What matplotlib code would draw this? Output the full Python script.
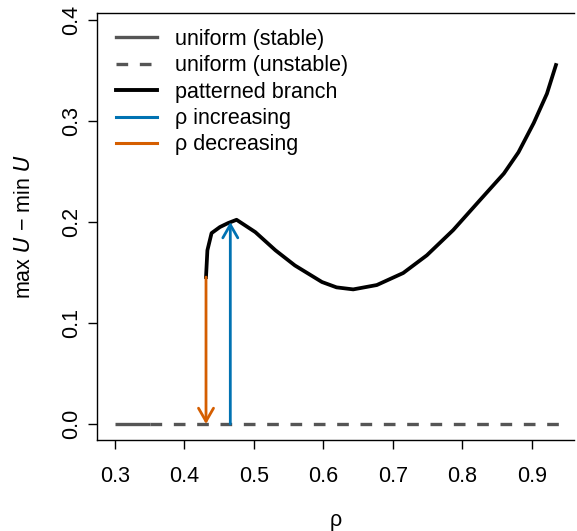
import numpy as np
import matplotlib
matplotlib.use("Agg")
import matplotlib.pyplot as plt
from matplotlib.lines import Line2D

plt.rcParams['font.family'] = ['Liberation Sans', 'DejaVu Sans']

# uniform state (U const, amplitude 0)
rho_stable = [0.30, 0.35]
rho_unstable = [0.35, 0.95]

# patterned branch
rho_branch = [0.431, 0.433, 0.439, 0.451, 0.463, 0.475, 0.502, 0.531, 0.559,
              0.598, 0.619, 0.643, 0.677, 0.715, 0.749, 0.787, 0.826, 0.860,
              0.881, 0.903, 0.922, 0.935]
amp_branch = [0.1455, 0.172, 0.189, 0.195, 0.199, 0.2022, 0.190, 0.172, 0.157,
              0.1406, 0.1353, 0.1333, 0.1376, 0.1495, 0.167, 0.192, 0.222,
              0.248, 0.269, 0.298, 0.327, 0.3554]

# jumps
rho_up, amp_up = 0.466, 0.200
rho_down, amp_down = 0.431, 0.1455

grey = '#555555'
blue = '#0072B2'
orange = '#D55E00'
fs = 15.5

fig = plt.figure(figsize=(5.77, 5.31), dpi=100)
ax = fig.add_axes([97/577, 91/531, 477/577, 427/531])

ax.plot(rho_stable, [0, 0], color=grey, lw=2.4, solid_capstyle='butt')
ax.plot(rho_unstable, [0, 0], color=grey, lw=2.4, dashes=(3.5, 3.5))
ax.plot(rho_branch, amp_branch, color='black', lw=2.7, solid_joinstyle='round')

ax.annotate('', xy=(rho_up, amp_up), xytext=(rho_up, 0),
            arrowprops=dict(arrowstyle='->,head_length=0.47,head_width=0.27',
                            mutation_scale=20, color=blue, lw=2.0,
                            shrinkA=0, shrinkB=0))
ax.annotate('', xy=(rho_down, 0), xytext=(rho_down, amp_down),
            arrowprops=dict(arrowstyle='->,head_length=0.47,head_width=0.27',
                            mutation_scale=20, color=orange, lw=2.0,
                            shrinkA=0, shrinkB=0))

ax.set_xlim(0.274, 0.961)
ax.set_ylim(-0.0158, 0.4069)
ax.set_xticks([0.3, 0.4, 0.5, 0.6, 0.7, 0.8, 0.9])
ax.set_yticks([0.0, 0.1, 0.2, 0.3, 0.4])
ax.set_xticklabels(['0.3', '0.4', '0.5', '0.6', '0.7', '0.8', '0.9'])
ax.set_yticklabels(['0.0', '0.1', '0.2', '0.3', '0.4'], rotation=90, va='center')

ax.spines['right'].set_visible(False)
for s in ['left', 'top', 'bottom']:
    ax.spines[s].set_linewidth(1.0)
ax.tick_params(direction='out', length=6.5, width=1.0, labelsize=fs)
ax.tick_params(axis='x', pad=12)
ax.tick_params(axis='y', pad=4.3)

ax.set_xlabel('ρ', fontsize=fs, labelpad=17)
ax.set_ylabel('max $\\mathit{U}$ − min $\\mathit{U}$', fontsize=fs, labelpad=19)

handles = [
    Line2D([], [], color=grey, lw=2.4),
    Line2D([], [], color=grey, lw=2.4, dashes=(3.5, 3.5)),
    Line2D([], [], color='black', lw=2.8),
    Line2D([], [], color=blue, lw=2.2),
    Line2D([], [], color=orange, lw=2.2),
]
labels = ['uniform (stable)', 'uniform (unstable)', 'patterned branch',
          'ρ increasing', 'ρ decreasing']
ax.legend(handles, labels, loc='upper left', bbox_to_anchor=(0.008, 0.998),
          frameon=False, fontsize=fs, handlelength=1.9, handletextpad=0.85,
          labelspacing=0.25, borderaxespad=0.3)

fig.savefig('out.png', dpi=100)
